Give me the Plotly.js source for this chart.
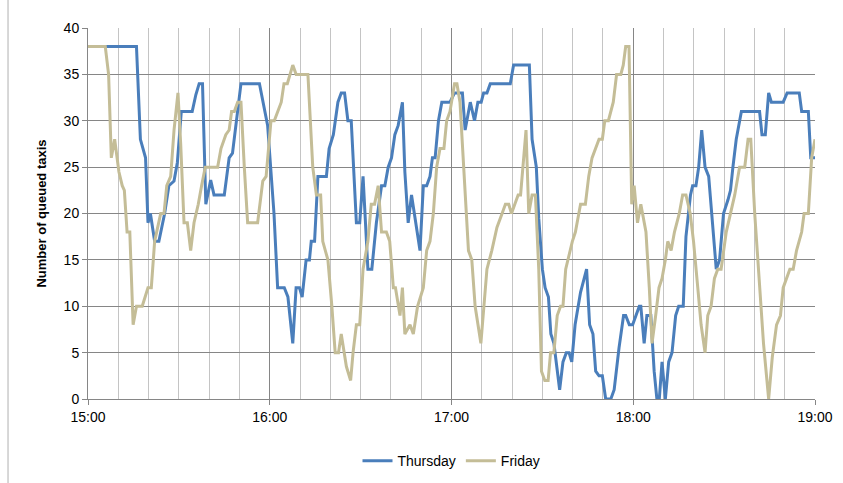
<!DOCTYPE html>
<html>
<head>
<meta charset="utf-8">
<script src="https://cdn.plot.ly/plotly-3.0.1.min.js"></script>
<style>body{margin:0;background:#fff}#chart{width:843px;height:483px}</style>
</head>
<body>
<div id="chart"></div>
<script>
// minutes after 15:00 and queue length
var thuMin = [0,16,17.3,19,19.8,20.6,22,23.4,25.3,26.7,28.4,29.5,30.8,34.4,35.6,36.7,37.8,38.9,40.5,41.6,45,46.6,47.7,50.5,56.6,59.3,61.4,62.6,64.8,66,67.6,68.7,69.8,70.7,72,73.1,73.7,74.8,75.9,78.7,79.6,81,82.5,83.6,84.7,85.8,86.9,88.6,89.7,90.8,92.4,93.7,95.2,96.9,98,99.1,100.2,101.3,102.4,103.8,104.6,105.7,106.8,109.6,110.7,111.8,112.9,113.7,114.6,115.7,116.8,119.5,121,123.6,124.5,126.2,127.6,128.7,129.8,130.6,131.7,132.8,139.4,140.5,145.7,146.6,148,148.8,150,150.9,152,152.8,153.8,155.7,156.8,157.9,158.8,159.7,160.8,162.6,164.6,165.6,166.7,167.6,168.7,169.8,170.9,172.6,173.7,175.3,176.8,177.5,178.7,179.8,182,182.5,183.6,184.5,185.8,186.9,187.8,188.6,189.5,190.6,191.7,192.8,194,195,196.5,197.4,198.9,199.6,200.7,201.6,202.6,203.7,204.9,206.2,207.4,208.5,209.8,211.3,212.1,212.9,214,215.7,221.7,222.5,223.6,224.7,225.6,229.5,230.8,234.8,235.6,237.8,238.6,240];
var thuVal = [38,38,28,26,19,20,17,17,20,23,23.5,25.5,31,31,32.8,34,34,21,23.6,22,22,26,26.5,34,34,29.5,20,12,12,11,6,12,12,11,15,15,17,17,24,24,27,28.5,32,33,33,30,30,19,19,24,14,14,19,23,23,25,26,28.5,29.5,32,24.5,19,22,16,23,23,24,26,26,30,32,32,33,33,29,32,30,32,32,33,33,34,34,36,36,28,25,19.5,14,12,11,7,6,1,4,5,5,4,8,11.5,14,8,7,3,2.5,2.5,0,0,1,5.5,9,9,8,8,10,10,6,9,9,3,0,0,4,0,4,5,9,10,10,17.5,22,23,23,25,29,25,24,19,14,15,20,21.5,22.5,25,28,31,31,28.5,28.5,33,32,32,33,33,31,31,26,26];
var friMin = [0,5.7,6.8,7.7,8.8,10.2,11.3,12,12.9,13.8,14.9,16,17.9,19.8,20.9,22,24,25.1,26,27.3,28.4,29.7,30.6,31.7,32.8,33.9,35,36.4,37.5,38.7,42.8,43.9,45.5,46.6,47.4,48.3,49.4,50.5,51.6,52.7,56,57.7,58.8,60.4,61.5,63.8,64.7,65.8,67.6,68.7,72.6,74.2,75.4,76.8,77.5,79.2,80.5,81.6,82.7,83.6,85.3,86.7,87.5,88.6,89.7,90.8,92.4,93.5,94.6,95.8,96.9,98.5,99.6,100.8,101.5,103,103.8,104.6,106.3,107.4,108.8,110.7,111.8,112.9,114,115.1,116.2,117.5,118.4,119.5,121,121.8,122.8,124,125.6,126.7,127.8,129.7,130.6,131.7,133.3,135,136.7,137.8,138.9,139.8,140.9,142,142.8,143.5,144.6,145.5,146.6,147.7,148.8,149.7,150.8,151.9,152.7,153.8,154.9,156,156.8,157.7,159,159.9,160.9,162.6,164.2,165.3,166.4,167.5,168.7,169.8,170.6,171.8,173.4,174.5,175.9,176.7,177.5,178.6,179.5,180.3,181.4,182.5,184.2,185.3,186.2,187.4,188.5,189.5,190.6,191.4,192.5,193.6,195.2,196.3,197.4,198.8,199.9,201.3,202.4,203.7,204.6,205.7,206.8,207.9,209,210.7,211.8,213.5,215.1,216.8,217.9,218.8,220.1,221.7,223,224.7,225.9,227.3,228.6,229.5,230.6,231.7,232.8,233.9,235.6,236.4,237.8,238.9,240];
var friVal = [38,38,35,26,28,24.5,23,22.5,18,18,8,10,10,12,12,17,20,20,23,24,29,33,27.5,19,19,16,19,21,23,25,25,27,28.5,29,31,31,32,32,25,19,19,23.5,24,30,30,32,34,34,36,35,35,25,22,22,17,15,10,5,5,7,3.5,2,5,8,8,14,17,21,21,23,18,18,17,12,12,9,12,7,8,7,10,12,16,17,20,25,27,27,30,31,34,34,32,25,16,15,10,6,10,14,16,18.5,20,21,21,20,21,22,22,25,29,20,22,22,14,3,2,2,5,5,9,10,10,14,16,17,18,21,21,24,26,27,28,28,30,30,32,35,35,36,38,38,21,23,19,21,18,12,6,9,12,13,15,17,16,18,20,22,22,20,17,12,8,5,9,10,13,14,14,18,19.5,22,25,25,28,28,20,12,6,0,4.5,8,9,12,13,14,14,16,18,20,20,26,28];
var hourTicks = [0, 60, 120, 180, 240];
var hourLabels = ["15:00", "16:00", "17:00", "18:00", "19:00"];

var trace1 = {x: thuMin, y: thuVal, name: "Thursday", type: "scatter", mode: "lines",
  line: {color: "#4a7ebb", width: 3}};
var trace2 = {x: friMin, y: friVal, name: "Friday", type: "scatter", mode: "lines",
  line: {color: "#c4bd97", width: 3}};

var layout = {
  width: 843, height: 483,
  margin: {l: 88, r: 28, t: 28, b: 84},
  font: {family: "Liberation Sans, Arial", size: 14, color: "#000"},
  paper_bgcolor: "#fff", plot_bgcolor: "#fff",
  showlegend: true,
  legend: {orientation: "h", x: 0.5, xanchor: "center", yref: "container", y: 0.045, yanchor: "middle", font: {size: 14}},
  xaxis: {
    range: [0, 240], tickmode: "array", tickvals: hourTicks, ticktext: hourLabels,
    showgrid: true, gridcolor: "#868686", gridwidth: 1, zeroline: false,
    showline: true, linecolor: "#868686", ticks: "outside", ticklen: 5, tickcolor: "#868686",
    minor: {tickmode: "linear", tick0: 0, dtick: 10, showgrid: true, gridcolor: "#c4c4c4", gridwidth: 1.2}
  },
  yaxis: {
    range: [0, 40], dtick: 5, showgrid: true, gridcolor: "#868686", zeroline: false,
    showline: true, linecolor: "#868686", ticks: "outside", ticklen: 5, tickcolor: "#868686",
    title: {text: "<b>Number of queued taxis</b>", font: {size: 13}, standoff: 14}
  },
  shapes: [{type: "line", xref: "paper", yref: "paper", x0: -0.11, x1: -0.11, y0: -0.3, y1: 1.1,
    line: {color: "#b0b0b0", width: 1}}]
};

Plotly.newPlot("chart", [trace1, trace2], layout, {displayModeBar: false});
</script>
</body>
</html>
